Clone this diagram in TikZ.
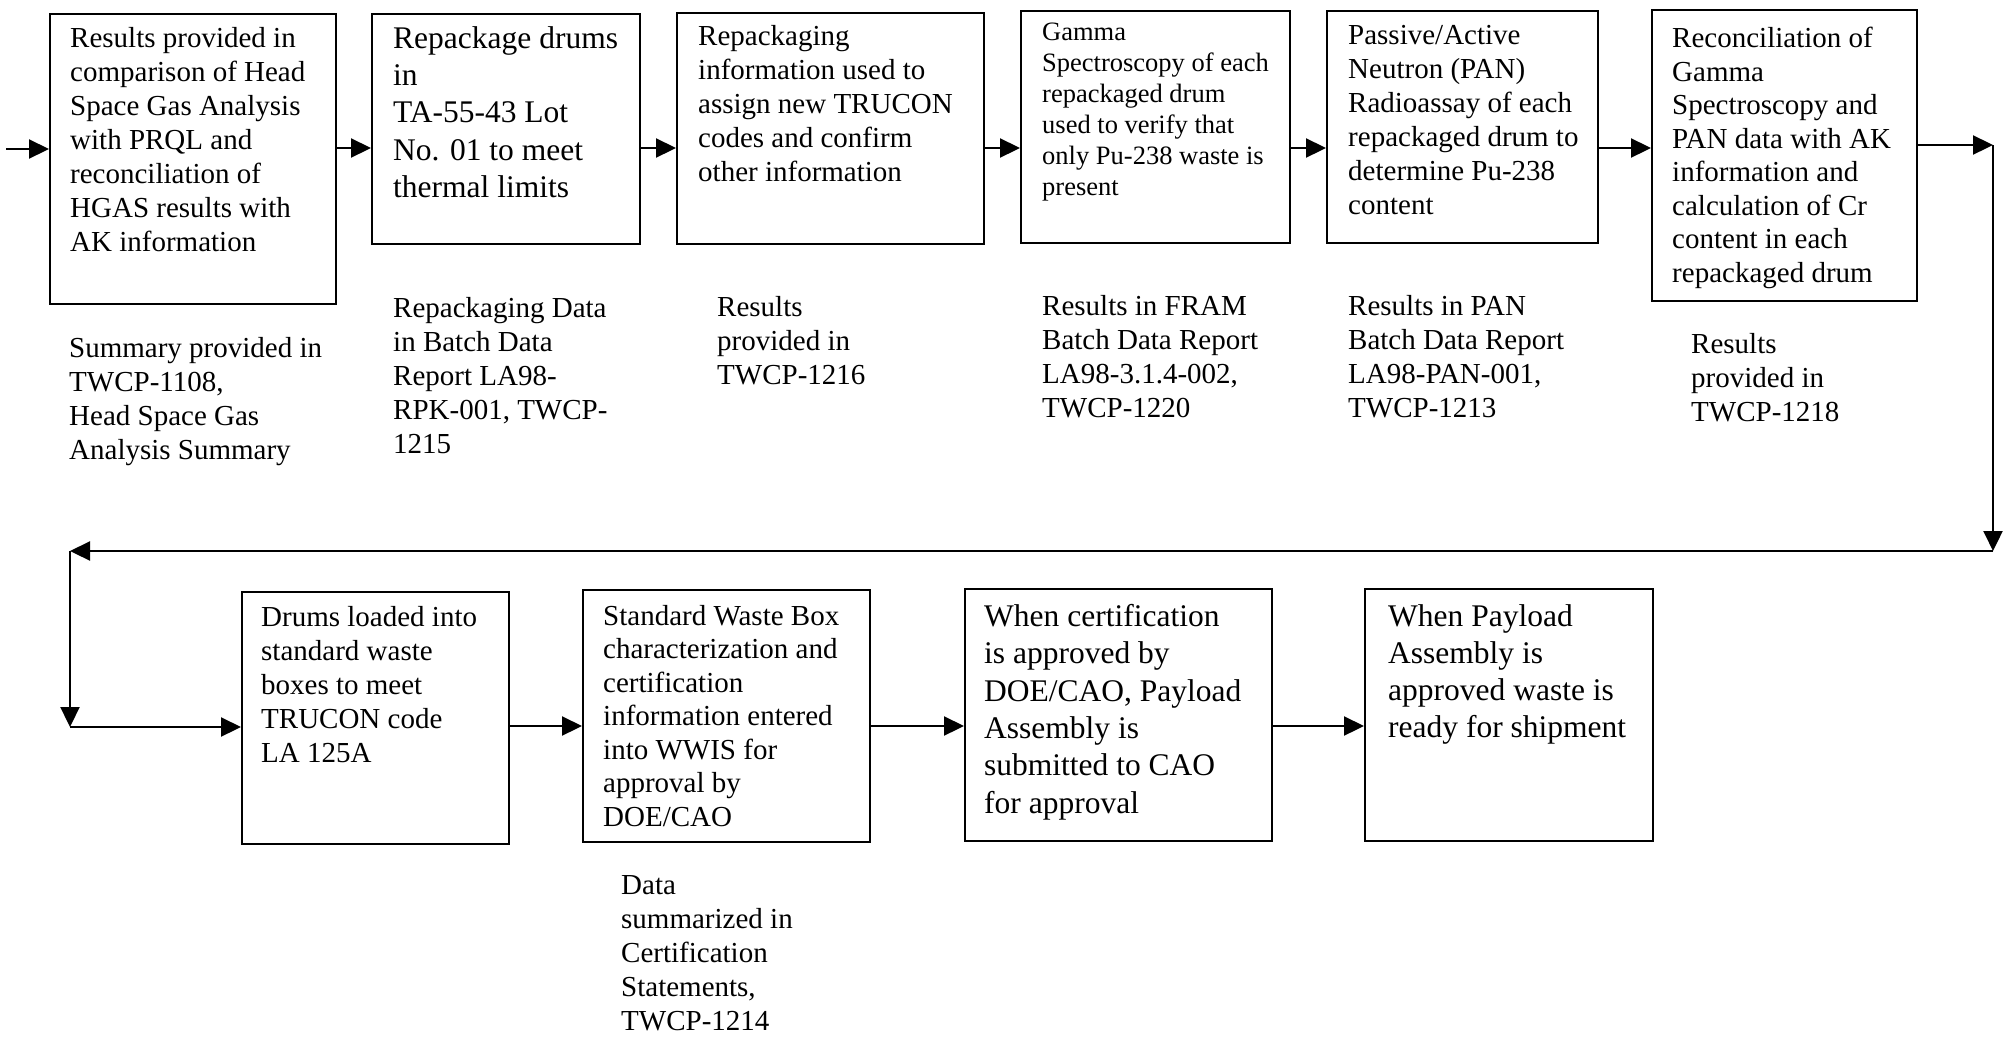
\documentclass[tikz,border=0pt]{standalone}
\usepackage{fontspec}
\setmainfont{Liberation Serif}
\usetikzlibrary{arrows.meta}
\begin{document}
\begin{tikzpicture}[x=1pt,y=-1pt,
  box/.style={draw, line width=2.2pt, inner sep=0pt, anchor=north west},
  txt/.style={inner sep=0pt, anchor=north west, align=left, font=\fontsize{29}{34}\selectfont},
  bigtxt/.style={txt, font=\fontsize{31.5}{37.4}\selectfont},
  smalltxt/.style={txt, font=\fontsize{26.5}{31}\selectfont},
  flow/.style={line width=2.2pt, -{Triangle[length=20pt,width=19pt]}}]
\fill[white] (0,0) rectangle (2007,1042);
\useasboundingbox (0,0) rectangle (2007,1042);
% boxes top row
\node[box, minimum width=286pt, minimum height=290pt] (b1) at (49,13) {};
\node[box, minimum width=268pt, minimum height=230pt] (b2) at (371,13) {};
\node[box, minimum width=307pt, minimum height=231pt] (b3) at (676,12) {};
\node[box, minimum width=269pt, minimum height=232pt] (b4) at (1020,10) {};
\node[box, minimum width=271pt, minimum height=232pt] (b5) at (1326,10) {};
\node[box, minimum width=265pt, minimum height=291pt] (b6) at (1651,9) {};
% boxes bottom row
\node[box, minimum width=267pt, minimum height=252pt] (b7) at (241,591) {};
\node[box, minimum width=287pt, minimum height=252pt] (b8) at (582,589) {};
\node[box, minimum width=307pt, minimum height=252pt] (b9) at (964,588) {};
\node[box, minimum width=288pt, minimum height=252pt] (b10) at (1364,588) {};
% box texts
\node[txt] (t1) at (70,27) {Results provided in\\comparison of Head\\Space Gas Analysis\\with PRQL and\\reconciliation of\\HGAS results with\\AK information};
\node[bigtxt] (t2) at (393,26) {Repackage drums\\in\\TA-55-43 Lot\\No. 01 to meet\\thermal limits};
\node[txt] (t3) at (698,25) {Repackaging\\information used to\\assign new TRUCON\\codes and confirm\\other information};
\node[smalltxt] (t4) at (1042,23) {Gamma\\Spectroscopy of each\\repackaged drum\\used to verify that\\only Pu-238 waste is\\present};
\node[txt] (t5) at (1348,25) {Passive/Active\\Neutron (PAN)\\Radioassay of each\\repackaged drum to\\determine Pu-238\\content};
\node[txt, font=\fontsize{29}{33.5}\selectfont] (t6) at (1672,27) {Reconciliation of\\Gamma\\Spectroscopy and\\PAN data with AK\\information and\\calculation of Cr\\content in each\\repackaged drum};
\node[txt] (t7) at (261,606) {Drums loaded into\\standard waste\\boxes to meet\\TRUCON code\\LA 125A};
\node[txt, font=\fontsize{29}{33.5}\selectfont] (t8) at (603,605) {Standard Waste Box\\characterization and\\certification\\information entered\\into WWIS for\\approval by\\DOE/CAO};
\node[bigtxt] (t9) at (984,604) {When certification\\is approved by\\DOE/CAO, Payload\\Assembly is\\submitted to CAO\\for approval};
\node[bigtxt, font=\fontsize{31.5}{37}\selectfont] (t10) at (1388,604) {When Payload\\Assembly is\\approved waste is\\ready for shipment};
% labels
\node[txt] (l1) at (69,337) {Summary provided in\\TWCP-1108,\\Head Space Gas\\Analysis Summary};
\node[txt] (l2) at (393,297) {Repackaging Data\\in Batch Data\\Report LA98-\\RPK-001, TWCP-\\1215};
\node[txt] (l3) at (717,296) {Results\\provided in\\TWCP-1216};
\node[txt] (l4) at (1042,295) {Results in FRAM\\Batch Data Report\\LA98-3.1.4-002,\\TWCP-1220};
\node[txt] (l5) at (1348,295) {Results in PAN\\Batch Data Report\\LA98-PAN-001,\\TWCP-1213};
\node[txt] (l6) at (1691,333) {Results\\provided in\\TWCP-1218};
\node[txt] (l7) at (621,875) {Data\\summarized in\\Certification\\Statements,\\TWCP-1214};
% connectors
\coordinate (start) at (6,149);
\coordinate (rowa) at (0,148);
\coordinate (rowb) at (0,726);
\coordinate (c1) at (1993,145);
\coordinate (c2) at (1993,551);
\coordinate (c3) at (70,551);
\coordinate (c4) at (70,727);
\draw[flow] (start) -- (b1.west |- start);
\draw[flow] (b1.east |- rowa) -- (b2.west |- rowa);
\draw[flow] (b2.east |- rowa) -- (b3.west |- rowa);
\draw[flow] (b3.east |- rowa) -- (b4.west |- rowa);
\draw[flow] (b4.east |- rowa) -- (b5.west |- rowa);
\draw[flow] (b5.east |- rowa) -- (b6.west |- rowa);
\draw[flow] (b6.east |- c1) -- (c1);
\draw[flow] (c1) -- (c2);
\draw[flow] (c2) -- (c3);
\draw[flow] (c3) -- (c4);
\draw[flow] (c4) -- (b7.west |- c4);
\draw[flow] (b7.east |- rowb) -- (b8.west |- rowb);
\draw[flow] (b8.east |- rowb) -- (b9.west |- rowb);
\draw[flow] (b9.east |- rowb) -- (b10.west |- rowb);
\end{tikzpicture}
\end{document}
